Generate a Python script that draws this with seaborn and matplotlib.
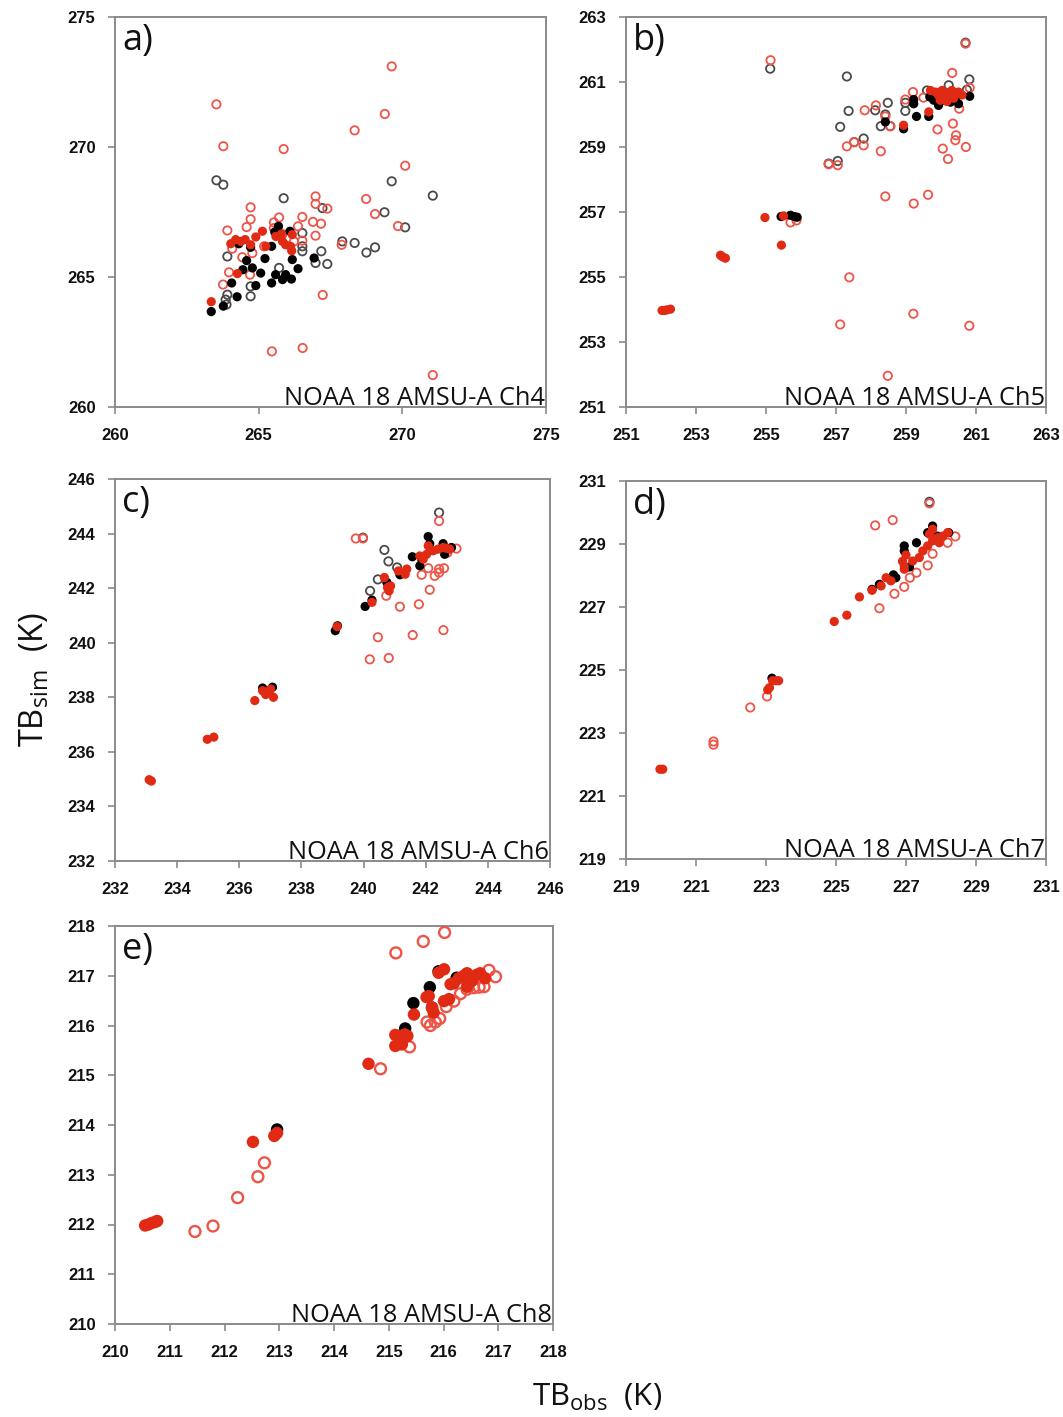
import matplotlib
matplotlib.use("Agg")
import matplotlib.pyplot as plt
import seaborn as sns
import pandas as pd

# ---------------------------------------------------------------- data
# Each panel: four series of (TB_obs, TB_sim) pairs.
# black_fill / red_fill : filled markers, black_open / red_open : hollow markers

# Channel 4
a_black_open_x = [263.53, 263.77, 265.87, 267.22, 269.63, 271.06, 269.38, 270.10, 267.91, 268.34,
                  268.75, 269.05, 267.18, 267.39, 266.98, 266.52, 266.52, 265.71, 263.91, 264.72,
                  263.91, 263.85, 263.88, 264.72, 266.52]
a_black_open_y = [268.72, 268.55, 268.03, 267.65, 268.68, 268.13, 267.49, 266.91, 266.37, 266.31,
                  265.94, 266.14, 265.99, 265.50, 265.54, 266.69, 265.99, 265.35, 265.79, 264.26,
                  264.32, 264.13, 263.94, 264.64, 266.18]
a_red_open_x = [263.53, 263.77, 265.87, 269.63, 269.39, 268.34, 270.10, 268.74, 269.05, 269.85,
                266.98, 266.98, 267.39, 266.89, 267.17, 266.98, 266.52, 266.37, 265.71, 265.53,
                264.72, 264.72, 264.58, 263.91, 266.52, 267.89, 267.23, 265.46, 266.53, 271.06,
                263.97, 263.76, 264.43, 264.70, 264.08, 264.78, 265.19, 265.83, 265.53, 266.23]
a_red_open_y = [271.64, 270.03, 269.92, 273.10, 271.27, 270.64, 269.28, 268.00, 267.42, 266.96,
                268.10, 267.81, 267.63, 267.12, 267.05, 266.59, 267.31, 266.95, 267.29, 267.10,
                267.68, 267.22, 266.92, 266.79, 266.40, 266.24, 264.31, 262.14, 262.27, 261.23,
                265.18, 264.71, 265.76, 265.09, 266.09, 265.92, 266.18, 266.65, 266.88, 266.37]
a_black_fill_x = [263.35, 263.77, 264.25, 264.06, 264.45, 264.58, 264.78, 265.07, 264.90, 265.22,
                  265.45, 265.59, 265.83, 266.14, 266.17, 266.37, 266.93, 265.45, 265.56, 265.69,
                  266.09, 264.31, 264.72, 265.94]
a_black_fill_y = [263.67, 263.88, 264.24, 264.77, 265.28, 265.63, 265.35, 265.15, 264.67, 265.71,
                  264.77, 265.09, 264.90, 264.92, 265.67, 265.32, 265.73, 266.18, 266.73, 266.95,
                  266.76, 266.28, 266.14, 265.09]
a_red_fill_x = [263.35, 264.26, 264.03, 264.20, 264.38, 264.53, 264.90, 265.13, 265.25, 265.60,
                265.83, 265.94, 266.11, 266.17, 266.15, 264.72, 265.79]
a_red_fill_y = [264.05, 265.13, 266.28, 266.44, 266.37, 266.44, 266.54, 266.76, 266.18, 266.56,
                266.37, 266.24, 266.18, 266.63, 266.01, 266.24, 266.65]

# Channel 5
b_black_open_x = [255.12, 257.31, 257.36, 257.12, 257.79, 257.52, 257.05, 256.79, 258.12, 258.48,
                  258.41, 258.28, 258.55, 258.98, 258.98, 259.60, 260.22, 260.70, 260.81, 260.74]
b_black_open_y = [261.41, 261.17, 260.11, 259.62, 259.26, 259.15, 258.57, 258.49, 260.13, 260.36,
                  260.00, 259.64, 259.64, 260.36, 260.11, 260.74, 260.90, 262.21, 261.08, 260.76]
b_red_open_x = [255.13, 255.70, 255.87, 256.79, 257.05, 257.31, 257.52, 257.79, 257.82, 258.14,
                258.28, 258.41, 258.55, 258.41, 259.22, 259.63, 257.38, 257.12, 259.21, 260.81,
                258.48, 258.98, 259.20, 259.50, 259.90, 260.05, 260.20, 260.34, 260.43, 260.41,
                260.71, 260.32, 260.70, 260.52, 260.82]
b_red_open_y = [261.67, 256.68, 256.74, 258.47, 258.44, 259.02, 259.15, 259.05, 260.13, 260.28,
                258.87, 259.94, 259.64, 257.48, 257.26, 257.53, 254.99, 253.54, 253.87, 253.50,
                251.96, 260.46, 260.69, 260.52, 259.54, 258.95, 258.63, 259.72, 259.36, 259.21,
                259.00, 261.28, 262.18, 260.18, 260.82]
b_black_fill_x = [255.43, 255.70, 255.81, 255.89, 258.41, 258.93, 259.22, 259.22, 259.30, 259.65,
                  259.68, 259.93, 260.08, 260.27, 260.50, 260.82, 259.79, 260.41]
b_black_fill_y = [256.86, 256.90, 256.86, 256.84, 259.77, 259.56, 260.46, 260.33, 259.94, 259.94,
                  260.54, 260.28, 260.44, 260.38, 260.33, 260.56, 260.44, 260.49]
b_red_fill_x = [252.03, 252.10, 252.17, 252.27, 253.70, 253.76, 253.84, 254.97, 255.44, 255.50,
                258.93, 259.65, 259.70, 259.84, 259.93, 260.03, 260.12, 260.22, 260.31, 260.41,
                260.50, 260.60, 259.98, 260.17, 260.36]
b_red_fill_y = [253.97, 253.97, 253.99, 254.01, 255.67, 255.62, 255.58, 256.83, 255.98, 256.88,
                259.67, 260.08, 260.74, 260.69, 260.59, 260.74, 260.64, 260.52, 260.74, 260.64,
                260.69, 260.60, 260.44, 260.40, 260.50]

# Channel 6
c_black_open_x = [239.98, 242.43, 240.67, 240.80, 240.46, 240.21, 241.08]
c_black_open_y = [243.85, 244.77, 243.40, 242.98, 242.32, 241.90, 242.76]
c_red_open_x = [239.75, 239.98, 242.43, 242.99, 242.08, 241.87, 242.29, 242.43, 242.59, 242.43,
                242.13, 241.78, 241.17, 240.73, 240.46, 241.58, 242.57, 240.20, 240.81, 242.70]
c_red_open_y = [243.82, 243.82, 244.46, 243.45, 242.73, 242.49, 242.45, 242.70, 242.73, 242.57,
                241.94, 241.41, 241.32, 241.72, 240.20, 240.28, 240.46, 239.39, 239.44, 243.30]
c_black_fill_x = [239.09, 239.16, 240.05, 240.27, 236.75, 237.07, 240.75, 241.17, 241.57, 241.81,
                  241.87, 242.08, 242.13, 242.56, 242.61, 242.83]
c_black_fill_y = [240.44, 240.62, 241.33, 241.56, 238.34, 238.37, 242.21, 242.49, 243.15, 242.82,
                  243.06, 243.89, 243.63, 243.63, 243.24, 243.49]
c_red_fill_x = [233.10, 233.17, 234.97, 235.18, 236.50, 236.75, 236.85, 236.96, 237.10, 237.01,
                239.15, 240.27, 240.67, 240.77, 240.87, 240.82, 241.12, 241.39, 241.34, 242.03,
                242.08, 242.24, 242.40, 242.56, 242.67, 242.77, 241.92, 241.81]
c_red_fill_y = [234.98, 234.93, 236.46, 236.54, 237.88, 238.24, 238.10, 238.18, 238.00, 238.30,
                240.59, 241.48, 242.39, 242.02, 242.08, 241.90, 242.63, 242.70, 242.51, 243.24,
                243.55, 243.37, 243.43, 243.49, 243.46, 243.43, 243.06, 243.18]

# Channel 7
d_black_open_x = [227.67]
d_black_open_y = [230.34]
d_red_open_x = [221.50, 221.50, 222.55, 223.03, 226.12, 226.62, 227.67, 226.24, 226.67, 226.95,
                227.11, 227.30, 227.62, 227.76, 228.41, 228.19]
d_red_open_y = [222.73, 222.63, 223.81, 224.16, 229.59, 229.76, 230.29, 226.96, 227.42, 227.64,
                227.93, 228.09, 228.32, 228.69, 229.24, 229.04]
d_black_fill_x = [223.17, 226.03, 226.24, 226.64, 226.71, 226.95, 226.95, 227.30, 227.10, 227.76,
                  227.62, 227.90, 228.22]
d_black_fill_y = [224.74, 227.56, 227.72, 228.02, 227.93, 228.94, 228.78, 229.04, 228.27, 229.57,
                  229.36, 229.25, 229.36]
d_red_fill_x = [219.97, 220.05, 223.05, 223.10, 223.19, 223.29, 223.36, 224.95, 225.31, 225.67,
                226.03, 226.29, 226.43, 226.57, 226.90, 226.95, 227.00, 226.95, 227.19, 227.38,
                227.48, 227.62, 227.76, 227.90, 228.05, 228.19, 227.67, 227.76, 227.95]
d_red_fill_y = [221.85, 221.85, 224.37, 224.44, 224.66, 224.66, 224.66, 226.54, 226.74, 227.32,
                227.53, 227.67, 227.93, 227.83, 228.45, 228.30, 228.65, 228.20, 228.46, 228.57,
                228.78, 228.94, 229.10, 229.20, 229.25, 229.36, 229.31, 229.47, 229.04]

# Channel 8
e_black_open_x = []
e_black_open_y = []
e_red_open_x = [211.46, 211.79, 212.24, 212.61, 212.73, 214.85, 215.13, 215.63, 216.02, 215.38,
                215.70, 215.76, 215.85, 215.93, 216.05, 216.19, 216.31, 216.43, 216.55, 216.65,
                216.74, 216.83, 216.95]
e_red_open_y = [211.86, 211.97, 212.54, 212.96, 213.24, 215.13, 217.46, 217.69, 217.87, 215.57,
                216.07, 216.00, 216.07, 216.14, 216.38, 216.49, 216.64, 216.73, 216.76, 216.77,
                216.78, 217.11, 216.98]
e_black_fill_x = [212.96, 215.30, 215.45, 215.75, 215.79, 216.24, 216.43, 215.91]
e_black_fill_y = [213.91, 215.94, 216.45, 216.77, 216.36, 216.96, 217.03, 217.09]
e_red_fill_x = [210.55, 210.61, 210.67, 210.73, 210.77, 212.52, 212.91, 212.96, 214.63, 215.12,
                215.29, 215.12, 215.24, 215.34, 215.46, 215.69, 215.73, 215.79, 215.82, 215.91,
                216.01, 216.01, 216.10, 216.13, 216.19, 216.28, 216.37, 216.43, 216.52, 216.61,
                216.67, 216.76, 216.43]
e_red_fill_y = [211.98, 212.00, 212.03, 212.05, 212.07, 213.66, 213.78, 213.84, 215.23, 215.81,
                215.82, 215.59, 215.62, 215.79, 216.22, 216.57, 216.59, 216.36, 216.26, 217.06,
                217.13, 216.49, 216.53, 216.83, 216.85, 216.95, 217.00, 217.05, 216.90, 217.02,
                217.05, 216.95, 216.78]

# ---------------------------------------------------------------- layout
W, H = 1063, 1417
sns.set_theme(style="white")
plt.rcParams["font.family"] = ["Open Sans", "DejaVu Sans"]
plt.rcParams["mathtext.fontset"] = "custom"
plt.rcParams["mathtext.rm"] = "Open Sans"
plt.rcParams["mathtext.it"] = "Open Sans"

fig = plt.figure(figsize=(W / 100, H / 100), dpi=100)

def box(l, t, r, b):
    return [l / W, 1 - b / H, (r - l) / W, (b - t) / H]

panels = [
    dict(tag="a)", ch="Ch4", rect=box(115, 17, 546, 407), lim=(260, 275), ticks=range(260, 276, 5),
         data=(a_black_open_x, a_black_open_y, a_red_open_x, a_red_open_y,
               a_black_fill_x, a_black_fill_y, a_red_fill_x, a_red_fill_y), big=False),
    dict(tag="b)", ch="Ch5", rect=box(626, 17, 1046, 407), lim=(251, 263), ticks=range(251, 264, 2),
         data=(b_black_open_x, b_black_open_y, b_red_open_x, b_red_open_y,
               b_black_fill_x, b_black_fill_y, b_red_fill_x, b_red_fill_y), big=False),
    dict(tag="c)", ch="Ch6", rect=box(115, 479, 550, 861), lim=(232, 246), ticks=range(232, 247, 2),
         data=(c_black_open_x, c_black_open_y, c_red_open_x, c_red_open_y,
               c_black_fill_x, c_black_fill_y, c_red_fill_x, c_red_fill_y), big=False),
    dict(tag="d)", ch="Ch7", rect=box(626, 481, 1046, 859), lim=(219, 231), ticks=range(219, 232, 2),
         data=(d_black_open_x, d_black_open_y, d_red_open_x, d_red_open_y,
               d_black_fill_x, d_black_fill_y, d_red_fill_x, d_red_fill_y), big=False),
    dict(tag="e)", ch="Ch8", rect=box(115, 926, 553, 1324), lim=(210, 218), ticks=range(210, 219, 1),
         data=(e_black_open_x, e_black_open_y, e_red_open_x, e_red_open_y,
               e_black_fill_x, e_black_fill_y, e_red_fill_x, e_red_fill_y), big=True),
]

RED = "#e02a14"
RED_OPEN = "#ee5548"
GREY_OPEN = "#4a4a4a"
SPINE = "#8a8a8a"

for p in panels:
    ax = fig.add_axes(p["rect"])
    bo_x, bo_y, ro_x, ro_y, bf_x, bf_y, rf_x, rf_y = p["data"]
    s_fill = 80 if p["big"] else 44
    s_open = 62 if p["big"] else 36
    lw_open = 1.7 if p["big"] else 1.3

    if len(bo_x):
        sns.scatterplot(x=bo_x, y=bo_y, ax=ax, s=s_open, marker="o", facecolor="none",
                        edgecolor=GREY_OPEN, linewidth=lw_open, zorder=2)
    sns.scatterplot(x=ro_x, y=ro_y, ax=ax, s=s_open, marker="o", facecolor="none",
                    edgecolor=RED_OPEN, linewidth=lw_open, zorder=3)
    sns.scatterplot(x=bf_x, y=bf_y, ax=ax, s=s_fill, marker="o", color="black",
                    edgecolor="none", linewidth=0, zorder=4)
    sns.scatterplot(x=rf_x, y=rf_y, ax=ax, s=s_fill, marker="o", color=RED,
                    edgecolor="none", linewidth=0, zorder=5)

    ax.set_xlim(*p["lim"])
    ax.set_ylim(*p["lim"])
    ax.set_xticks(list(p["ticks"]))
    ax.set_yticks(list(p["ticks"]))
    ax.set_xlabel("")
    ax.set_ylabel("")
    for side in ax.spines.values():
        side.set_visible(True)
        side.set_color(SPINE)
        side.set_linewidth(1.4)
    ax.tick_params(axis="both", which="major", direction="out", length=5, width=1.2,
                   color=SPINE, labelsize=12, labelcolor="#111111")
    ax.tick_params(axis="x", pad=10)
    ax.tick_params(axis="y", pad=9)
    ax.tick_params(left=True, bottom=True)
    for lab in ax.get_xticklabels() + ax.get_yticklabels():
        lab.set_fontweight("bold")
        lab.set_family(["Liberation Sans", "DejaVu Sans"])

    ax.text(0.017, 0.985, p["tag"], transform=ax.transAxes, ha="left", va="top",
            fontsize=26, color="#111111")
    ax.text(0.998, 0.004, "NOAA 18 AMSU-A " + p["ch"], transform=ax.transAxes,
            ha="right", va="baseline", fontsize=18.3, color="#111111")

fig.text(35 / W, 1 - 680 / H, r"TB$_{\mathrm{sim}}$  (K)", rotation=90, ha="center",
         va="center", fontsize=23.5, color="#111111")
fig.text(597 / W, 1 - 1397 / H, r"TB$_{\mathrm{obs}}$  (K)", ha="center", va="center",
         fontsize=22.5, color="#111111")

fig.savefig("out.png", dpi=100)
